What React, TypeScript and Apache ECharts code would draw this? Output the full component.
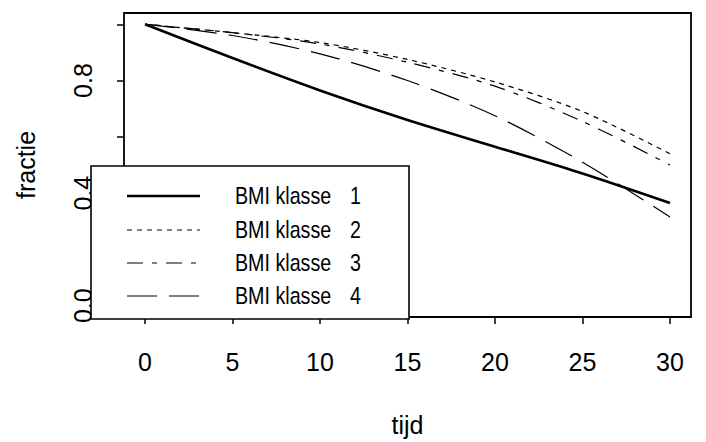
import React, { useEffect, useRef } from "react";
import * as echarts from "echarts";

const tijd = [0, 5, 10, 15, 20, 25, 30];
const klasse1 = [1.0, 0.88, 0.765, 0.66, 0.565, 0.47, 0.365];
const klasse2 = [1.0, 0.97, 0.935, 0.875, 0.795, 0.69, 0.54];
const klasse3 = [1.0, 0.97, 0.93, 0.865, 0.78, 0.655, 0.5];
const klasse4 = [1.0, 0.96, 0.895, 0.8, 0.675, 0.51, 0.315];
const seriesNames = ["BMI klasse 1", "BMI klasse 2", "BMI klasse 3", "BMI klasse 4"];
const xTicks = [0, 5, 10, 15, 20, 25, 30];
const yTicks = [0, 0.2, 0.4, 0.6, 0.8, 1.0];
const yLabels = [0, 0.4, 0.8];

const FONT = "'Liberation Sans', Arial, sans-serif";

export default function App() {
  const ref = useRef<HTMLDivElement>(null);
  useEffect(() => {
    if (!ref.current) return;
    const chart = echarts.init(ref.current, null, { renderer: "svg" });
    const values = [klasse1, klasse2, klasse3, klasse4];
    const styles = [
      { width: 2.6, type: "solid" as any },
      { width: 1.2, type: [5, 5] as any },
      { width: 1.2, type: [16, 9, 5, 9] as any },
      { width: 1.2, type: [30, 12] as any },
    ];
    const legendY = [196, 230, 263, 296];
    const graphics: any[] = [
      {
        type: "rect",
        z: 100,
        shape: { x: 91, y: 166, width: 318, height: 153 },
        style: { fill: "#fff", stroke: "#000", lineWidth: 1.6 },
      },
    ];
    seriesNames.forEach((name, i) => {
      const parts = name.split(" ");
      const num = parts.pop();
      graphics.push({
        type: "line",
        z: 101,
        shape: { x1: 127, y1: legendY[i], x2: 200, y2: legendY[i] },
        style: {
          stroke: "#000",
          lineWidth: styles[i].width,
          lineDash: Array.isArray(styles[i].type) ? styles[i].type : null,
        },
      });
      graphics.push({
        type: "text",
        z: 101,
        x: 235,
        y: legendY[i],
        scaleX: 0.82,
        style: {
          text: parts.join(" "),
          fontFamily: FONT,
          fontSize: 24,
          fill: "#000",
          verticalAlign: "middle",
          align: "left",
        },
      });
      graphics.push({
        type: "text",
        z: 101,
        x: 350,
        y: legendY[i],
        scaleX: 0.82,
        style: {
          text: num,
          fontFamily: FONT,
          fontSize: 24,
          fill: "#000",
          verticalAlign: "middle",
          align: "left",
        },
      });
    });

    const txt = { fontFamily: FONT, fontSize: 25, color: "#000" };

    chart.setOption({
      animation: false,
      backgroundColor: "#fff",
      grid: {
        left: 124,
        right: 15,
        top: 13,
        bottom: 123,
        show: true,
        borderColor: "#000",
        borderWidth: 1.8,
        backgroundColor: "transparent",
      },
      xAxis: {
        type: "value",
        min: -1.2,
        max: 31.2,
        name: "tijd",
        nameLocation: "middle",
        nameGap: 95,
        nameTextStyle: txt,
        axisLine: { show: false, onZero: false },
        axisTick: {
          show: true,
          length: 7,
          inside: false,
          customValues: xTicks,
          lineStyle: { color: "#000", width: 1.5 },
        },
        axisLabel: {
          customValues: xTicks,
          margin: 32,
          ...txt,
        },
        splitLine: { show: false },
      },
      yAxis: {
        type: "value",
        min: -0.04,
        max: 1.04,
        name: "fractie",
        nameLocation: "middle",
        nameGap: 86,
        nameTextStyle: txt,
        axisLine: { show: false, onZero: false },
        axisTick: {
          show: true,
          length: 7,
          inside: false,
          customValues: yTicks,
          lineStyle: { color: "#000", width: 1.5 },
        },
        axisLabel: {
          customValues: yLabels,
          rotate: 90,
          margin: 29,
          ...txt,
          formatter: (v: number) => v.toFixed(1),
        },
        splitLine: { show: false },
      },
      series: values.map((vals, i) => ({
        name: seriesNames[i],
        type: "line",
        showSymbol: false,
        smooth: 0.3,
        data: tijd.map((t, j) => [t, vals[j]]),
        lineStyle: { color: "#000", width: styles[i].width, type: styles[i].type },
        itemStyle: { color: "#000" },
      })),
      graphic: graphics,
    });
    return () => chart.dispose();
  }, []);
  return (
    <div
      ref={ref}
      style={{ position: "absolute", left: 0, top: 0, width: 706, height: 442, background: "#fff" }}
    />
  );
}
